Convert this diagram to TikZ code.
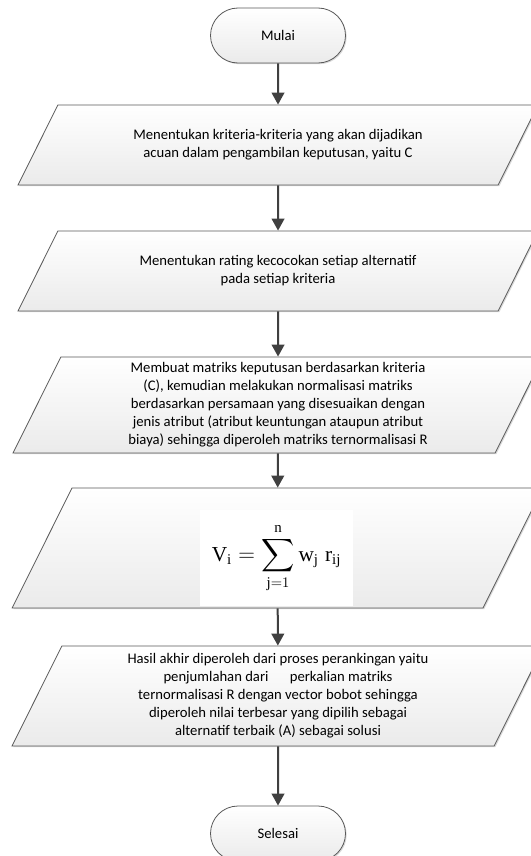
\documentclass[tikz,border=0pt]{standalone}
\usepackage{amsmath}
\usepackage{fontspec}
\setmainfont{Carlito}
\setmathrm{Liberation Serif}
\usepackage{tikz}
\usetikzlibrary{arrows.meta,shapes.geometric,shapes.misc,shadows}

\newcommand{\isi}[1]{\begin{tabular}{@{}c@{}}#1\end{tabular}}

\begin{document}
\begin{tikzpicture}[x=0.75pt, y=-0.75pt,
        box/.style = {draw=black!65, line width=0.6pt, top color=white, bottom color=black!8,
            drop shadow={shadow xshift=0.9pt, shadow yshift=-0.9pt, fill=black!30, opacity=0.5},
            font = {\fontsize{11}{13.5}\selectfont}, inner sep=0pt},
        terminal/.style = {box, rounded rectangle, minimum width=101.25pt, minimum height=41.25pt},
        data/.style 2 args = {box, trapezium, trapezium left angle=63.5, trapezium right angle=116.5,
            trapezium stretches body, minimum width=#1, text height=#2/2+2.75pt, text depth=#2/2-2.75pt},
        flow/.style = {draw=black!75, line width=1.5pt, -{Triangle[width=9.5pt, length=9pt]}}]
        \useasboundingbox (0,0) rectangle (531,856);

        \node[terminal] (mulai) at (278, 35.5) {Mulai};
        \node[data={390pt}{60pt}] (kriteria) at (278, 145)
            {\isi{Menentukan kriteria-kriteria yang akan dijadikan\\acuan dalam pengambilan keputusan, yaitu C}};
        \node[data={390pt}{60pt}] (rating) at (278, 271)
            {\isi{Menentukan rating kecocokan setiap alternatif\\pada setiap kriteria}};
        \node[data={397.5pt}{72pt}] (normal) at (278, 405)
            {\isi{Membuat matriks keputusan berdasarkan kriteria\\(C), kemudian melakukan normalisasi matriks\\berdasarkan persamaan yang disesuaikan dengan\\jenis atribut (atribut keuntungan ataupun atribut\\biaya) sehingga diperoleh matriks ternormalisasi R}};
        \node[data={398pt}{90pt}] (bobot) at (277.5, 548) {};
        \node[fill=white, minimum width=115pt, minimum height=72pt, inner sep=0pt] (rumus) at (276.5, 558)
            {\fontsize{16}{19}\selectfont $\displaystyle \mathrm{V}_{\mathrm{i}} = \sum_{\mathrm{j}=1}^{\mathrm{n}} \mathrm{w}_{\mathrm{j}}\;\mathrm{r}_{\mathrm{ij}}$};
        \node[data={399pt}{75pt}] (hasil) at (278, 696)
            {\isi{Hasil akhir diperoleh dari proses perankingan yaitu\\penjumlahan dari\hspace{16pt}perkalian matriks\\ternormalisasi R dengan vector bobot sehingga\\diperoleh nilai terbesar yang dipilih sebagai\\alternatif terbaik (A) sebagai solusi}};
        \node[terminal] (selesai) at (278, 833.5) {Selesai};

        \draw[flow] (mulai) -- (kriteria);
        \draw[flow] (kriteria) -- (rating);
        \draw[flow] (rating) -- (normal);
        \draw[flow] (normal) -- (bobot);
        \draw[flow] (bobot) -- (hasil);
        \draw[flow] (hasil) -- (selesai);
    \end{tikzpicture}
\end{document}
